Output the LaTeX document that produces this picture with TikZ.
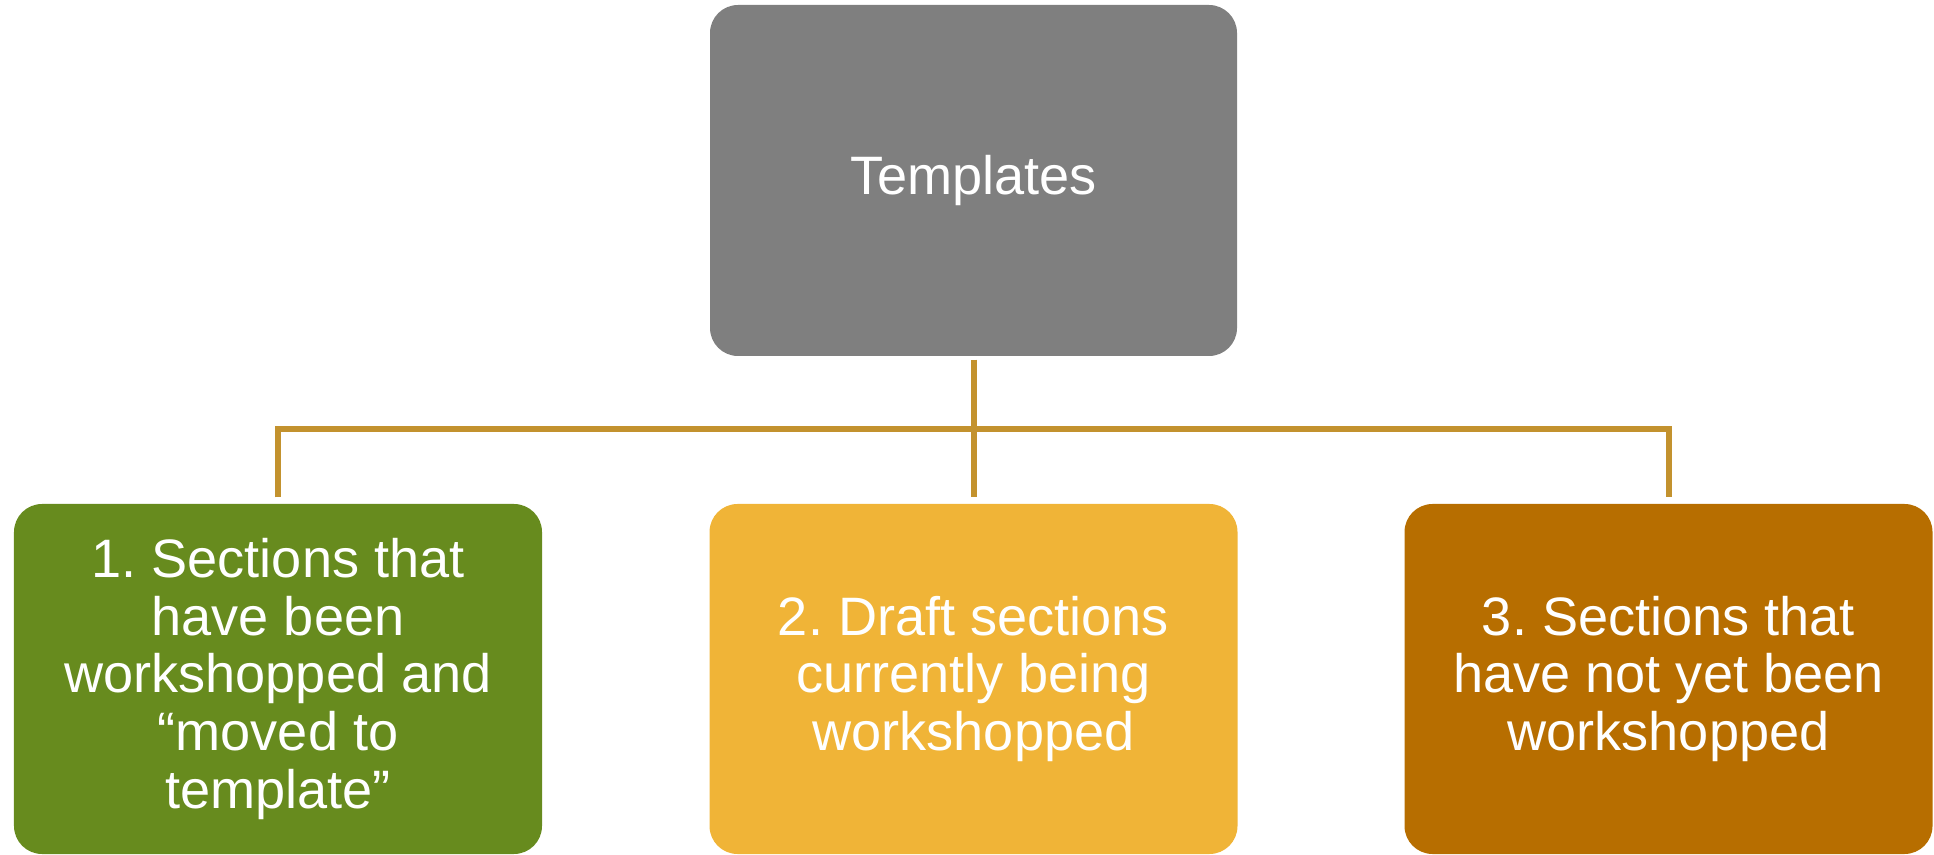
\documentclass[tikz,border=0pt]{standalone}
\usepackage{fontspec}
\setmainfont{Liberation Sans}
\usepackage{tikz}
\usetikzlibrary{positioning}
\frenchspacing

\definecolor{boxgray}{RGB}{127,127,127}
\definecolor{boxgreen}{RGB}{103,139,30}
\definecolor{boxyellow}{RGB}{240,180,55}
\definecolor{boxbrown}{RGB}{183,110,0}
\definecolor{linkgold}{RGB}{195,146,46}

\begin{document}
\begin{tikzpicture}[section/.style={rectangle, rounded corners=0.28cm, text=white, minimum width=5.28cm, minimum height=3.5cm, inner sep=0pt, font=\fontsize{15.4pt}{16.4pt}\selectfont},
			link/.style={draw=linkgold, line width=0.06cm},
			every text node part/.style={align=center}]
			\useasboundingbox (0,0) rectangle (19.34,-8.55);
			\node[section, fill=boxgray, minimum width=5.27cm, minimum height=3.51cm](node1) at (9.735, -1.805) {Templates};
			
			\node[section, fill=boxgreen](node2) at (2.78, -6.79) {1. Sections that\\ have been\\ workshopped and\\ “moved to\\ template”};
			
			\node[section, fill=boxyellow](node3) at (9.735, -6.79) {2. Draft sections\\ currently being\\ workshopped};
			
			\node[section, fill=boxbrown](node4) at (16.685, -6.79) {3. Sections that\\ have not yet been\\ workshopped};
			
			\draw[link] ([yshift=-0.03cm]node1.south) -- ([yshift=0.06cm]node3.north);
			\draw[link] ([yshift=0.06cm]node2.north) -- ++(0,0.68) -| ([yshift=0.06cm]node4.north);
			\end{tikzpicture}
\end{document}
